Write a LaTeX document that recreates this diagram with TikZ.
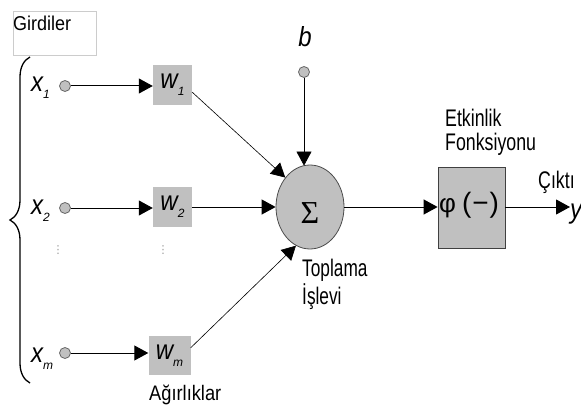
\documentclass[tikz,border=0pt]{standalone}
\usepackage{fontspec}
\setmainfont{Liberation Sans}
\newfontfamily\serifgr{Liberation Serif}
\newfontfamily\dejavu{DejaVu Sans}
\usetikzlibrary{arrows.meta,shapes.geometric,decorations.pathreplacing,calc}
\newcommand\lab[1]{\scalebox{1}[1.15]{\fontsize{24}{24}\selectfont\itshape #1}}
\newcommand\subl[1]{\raisebox{-7pt}{\fontsize{12}{12}\selectfont\itshape #1}}
\newcommand\ntxt[3]{\scalebox{#1}[1]{\fontsize{#2}{#2}\selectfont #3}}
\newcommand\ntwo[5]{\scalebox{#1}[1]{\fontsize{#2}{#3}\selectfont\begin{tabular}[t]{@{}l@{}}#4\\#5\end{tabular}}}
\definecolor{nodegray}{HTML}{C0C0C0}
\tikzset{
  x=1pt,y=-1pt,
  inpt/.style={circle,draw=gray!80!black,fill=nodegray,minimum size=11,inner sep=0,line width=0.8},
  wbox/.style={fill=nodegray,minimum width=39,minimum height=40,inner sep=0},
  arr/.style={-{Triangle[length=14,width=15]},line width=1},
  tarr/.style={-{Triangle[length=14,width=15]},line width=0.6},
  lbl/.style={inner sep=0},
}
\begin{document}
\begin{tikzpicture}
\useasboundingbox (0,0) rectangle (581,409);
% inputs box
\node[draw=gray!40,minimum width=83,minimum height=44,inner sep=0,anchor=north west] (gbox) at (13,11) {};
\node[lbl,anchor=base west] (gtext) at (13,31) {\ntxt{0.9}{20}{Girdiler}};
% brace
\coordinate (bt) at (30,57);
\coordinate (bb) at (30,383);
\draw[line width=1.3,decorate,decoration={brace,amplitude=20}] (bb) -- (bt);
% input circles
\node[inpt] (x1c) at (65,86) {};
\node[inpt] (x2c) at (65,208) {};
\node[inpt] (xmc) at (65,353) {};
\node[lbl,anchor=base west] (x1l) at (31,92) {\lab{x}\subl{1}};
\node[lbl,anchor=base west] (x2l) at (31,214) {\lab{x}\subl{2}};
\node[lbl,anchor=base west] (xml) at (31,362) {\lab{x}\subl{m}};
% weights
\node[wbox] (w1) at (172.5,85) {\lab{w}\subl{1}};
\node[wbox] (w2) at (172.5,207) {\lab{w}\subl{2}};
\node[wbox,minimum width=42,minimum height=39] (wm) at (169.5,355.5) {\lab{w}\subl{m}};
\draw[arr] (x1c) -- (x1c -| w1.west);
\draw[arr] (x2c) -- (x2c -| w2.west);
\draw[arr] (xmc) -- (xmc -| wm.west);
% dots
\node[text=gray!80,inner sep=0] (d1) at (58,250) {\dejavu\fontsize{11}{11}\selectfont ⋮};
\node[text=gray!80,inner sep=0] (d2) at (163,250) {\dejavu\fontsize{11}{11}\selectfont ⋮};
\node[lbl,anchor=base west] (agr) at (149,400) {\ntxt{0.87}{21}{Ağırlıklar}};
% summation
\node[ellipse,draw=gray!60!black,fill=nodegray,minimum width=68,minimum height=84,inner sep=0,line width=0.8] (sum) at (310,207) {};
\node[lbl] (sigma) at ($(sum.center)+(0,6)$) {\fontsize{32}{32}\selectfont\serifgr Σ};
\node[inpt] (bc) at (304,72) {};
\node[lbl,anchor=base] (bl) at (305,47) {\lab{b}};
\draw[tarr] (bc) -- ($(bc |- sum.north)+(0,1)$);
\draw[tarr] (w1.-20) -- (sum.130);
\draw[arr] (w2.east |- sum.west) -- (sum.west);
\draw[tarr] (wm.20) -- (sum.250);
\node[lbl,anchor=base west] (topl) at (302,276) {\ntwo{0.72}{24}{24}{Toplama}{İşlevi}};
% activation
\node[draw=black!75,fill=nodegray,minimum width=67,minimum height=81,inner sep=0,line width=0.8] (phi) at (471.5,207.5) {};
\node[lbl,anchor=base west] (phitext) at (439,212) {{\fontsize{26}{26}\selectfont φ}\hspace{6pt}{\fontsize{28}{28}\selectfont (\hspace{1pt}−\hspace{1pt})}};
\draw[arr] (sum.east) -- (sum.east -| phi.west);
\node[lbl,anchor=base west] (etk) at (445,127) {\ntwo{0.74}{24}{21}{Etkinlik}{Fonksiyonu}};
\node[lbl,anchor=base west] (yout) at (570,218) {\lab{y}};
\draw[arr] (phi.east |- sum.east) -- (sum.east -| yout.west);
\node[lbl,anchor=base west] (cikti) at (538,189) {\ntxt{0.74}{24}{Çıktı}};
\end{tikzpicture}
\end{document}
